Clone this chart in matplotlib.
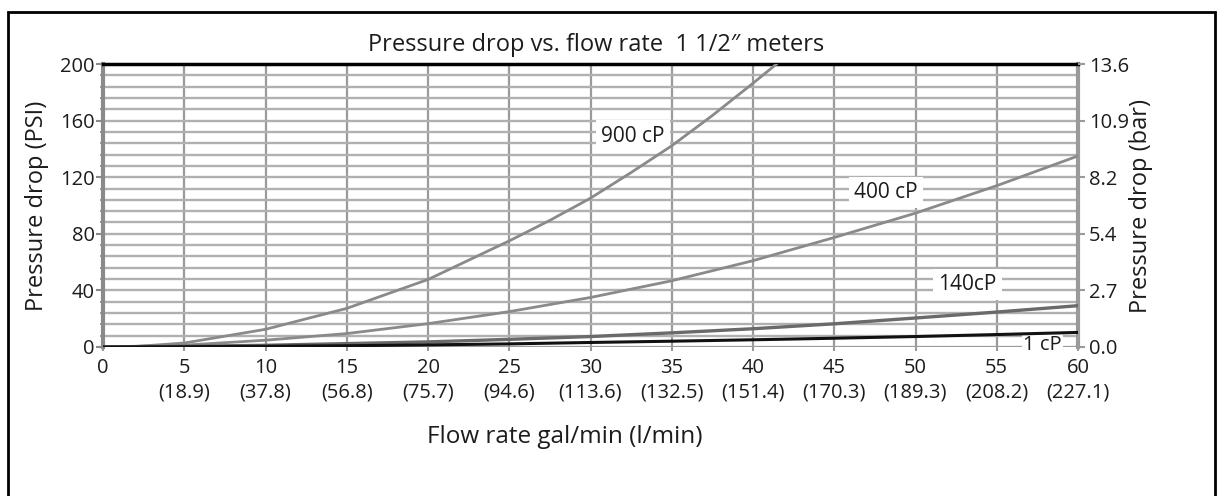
import matplotlib
matplotlib.use("Agg")
import matplotlib.pyplot as plt
from matplotlib.patches import Rectangle
from matplotlib.ticker import MultipleLocator

plt.rcParams['font.family'] = ['Open Sans', 'DejaVu Sans']

# ---- data ----
flow_gpm = [0, 5, 10, 15, 20, 25, 30, 35, 40, 45, 50, 55, 60]
flow_lpm = ["18.9", "37.8", "56.8", "75.7", "94.6", "113.6", "132.5",
            "151.4", "170.3", "189.3", "208.2", "227.1"]

cp900_x = [0, 2, 5, 10, 15, 20, 25, 27.5, 30, 32.5, 35, 37.5, 40, 41.45]
cp900_y = [0, 0.4, 2.8, 12.5, 27.3, 47.7, 75, 89.5, 105.2, 123.3, 142.2, 163.6, 186.4, 200]

cp400_y = [0, 1.3, 4.8, 9.5, 16.5, 25, 35, 46.8, 61, 77.4, 94.6, 114, 135]
cp140_y = [0, 0.5, 1.2, 2.4, 3.6, 5.4, 7.4, 10.0, 12.9, 16.4, 20.5, 24.7, 29.2]
cp1_y = [0, 0.2, 0.5, 0.9, 1.5, 2.2, 3.2, 4.1, 5.1, 6.2, 7.4, 8.8, 10.3]

psi_ticks = [0, 40, 80, 120, 160, 200]
bar_labels = ["0.0", "2.7", "5.4", "8.2", "10.9", "13.6"]

series_labels = ["900 cP", "400 cP", "140cP", "1 cP"]

TXT = '#1e1b1c'
W, H = 1219, 496
fig = plt.figure(figsize=(W / 100, H / 100), dpi=100)
ax = fig.add_axes([103 / W, 1 - 347 / H, (1078 - 103) / W, (347 - 64) / H])

ax.set_xlim(0, 60)
ax.set_ylim(0, 200)
ax.set_axisbelow(True)

# grid
ax.xaxis.set_major_locator(MultipleLocator(5))
ax.yaxis.set_major_locator(MultipleLocator(40))
ax.yaxis.set_minor_locator(MultipleLocator(8))
ax.grid(True, axis='x', which='major', color='#9a9a9a', lw=1.6)
ax.grid(True, axis='y', which='both', color='#b0b0b0', lw=1.7)

# curves
ax.plot(cp900_x, cp900_y, color='#8a8a8a', lw=2.0, zorder=4)
ax.plot(flow_gpm, cp400_y, color='#8a8a8a', lw=2.0, zorder=4)
ax.plot(flow_gpm, cp140_y, color='#6a6a6a', lw=2.4, zorder=4)
ax.plot(flow_gpm, cp1_y, color='#111111', lw=2.2, zorder=4)

# ticks
ax.set_xticks(flow_gpm)
ax.set_xticklabels(["0"] + [f"{g}\n({l})" for g, l in zip(flow_gpm[1:], flow_lpm)])
for lab in ax.get_xticklabels():
    lab.set_linespacing(1.3)
ax.set_yticks(psi_ticks)
ax.tick_params(axis='x', which='major', length=3, width=1.5, color='#9a9a9a',
               pad=4.8, labelsize=14.5, labelcolor=TXT)
ax.tick_params(axis='y', which='major', length=5, width=1.5, color='#8a8a8a',
               pad=1, labelsize=14.5, labelcolor=TXT)
ax.tick_params(axis='y', which='minor', length=2.5, width=1.2, color='#8a8a8a')

# spines
ax.spines['top'].set_color('black')
ax.spines['top'].set_linewidth(2.5)
ax.spines['left'].set_color('#8a8a8a')
ax.spines['left'].set_linewidth(3)
ax.spines['right'].set_color('#9a9a9a')
ax.spines['right'].set_linewidth(3)
ax.spines['bottom'].set_visible(False)
ax.axhline(0, color='#9a9a9a', lw=2, zorder=1.5)

# right axis
ax2 = ax.twinx()
ax2.set_ylim(0, 200)
ax2.set_yticks(psi_ticks)
ax2.set_yticklabels(bar_labels)
ax2.tick_params(axis='y', length=5, width=1.5, color='#9a9a9a', pad=3,
                labelsize=14.5, labelcolor=TXT)
for s in ax2.spines.values():
    s.set_visible(False)

# series labels
label_pos = [(32.6, 149), (48.2, 109), (53.2, 44), (57.8, 1.6)]
label_pad = [0.25, 0.25, 0.25, 0.05]
label_size = [15, 15, 15, 14.5]
for txt, (x, y), p, fs in zip(series_labels, label_pos, label_pad, label_size):
    ax.text(x, y, txt, ha='center', va='center', fontsize=fs, color=TXT,
            bbox=dict(boxstyle=f'square,pad={p}', fc='white', ec='none'),
            zorder=3, clip_on=False)

# titles / labels
fig.text(596 / W, 1 - 45 / H, 'Pressure drop vs. flow rate  1 1/2\u2033 meters',
         ha='center', va='center', fontsize=17, color=TXT)
fig.text(37 / W, 1 - 206 / H, 'Pressure drop (PSI)', rotation=90,
         ha='center', va='center', fontsize=17, color=TXT)
fig.text(1141 / W, 1 - 206 / H, 'Pressure drop (bar)', rotation=90,
         ha='center', va='center', fontsize=17, color=TXT)
fig.text(565 / W, 1 - 437 / H, 'Flow rate gal/min (l/min)',
         ha='center', va='center', fontsize=17.5, color=TXT)

# outer frame
fig.patches.append(Rectangle((8 / W, -0.05), (1215 - 8) / W, 1.05 - 12 / H,
                             transform=fig.transFigure, fill=False,
                             ec='black', lw=2))

fig.savefig('out.png', dpi=100, facecolor='white')
